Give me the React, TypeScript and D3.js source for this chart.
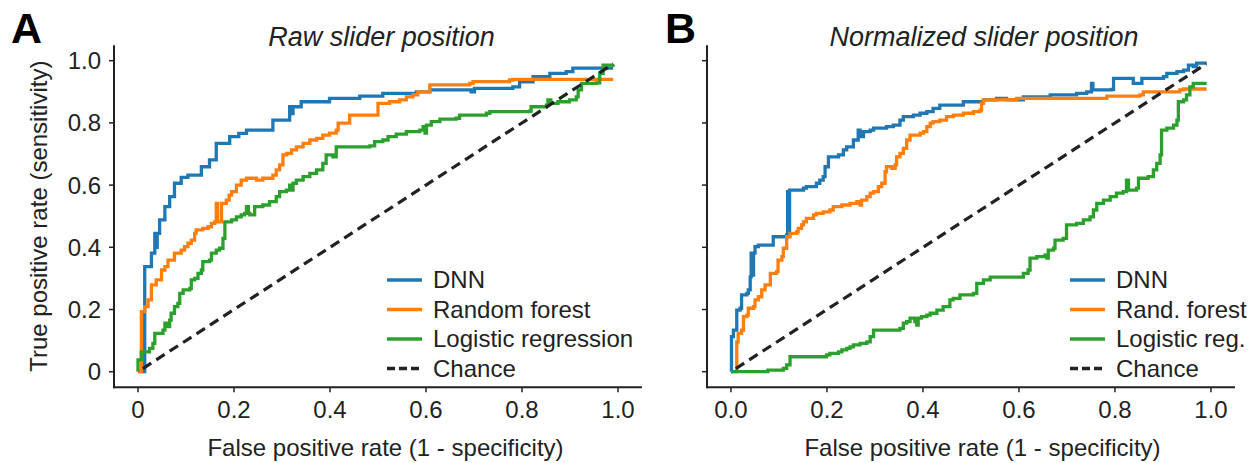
import React from "react";
import * as d3 from "d3";

type P = [number, number];

const xTickValues = [0, 0.2, 0.4, 0.6, 0.8, 1.0];
const yTickValues = [0, 0.2, 0.4, 0.6, 0.8, 1.0];
const xTickLabelsA = ["0", "0.2", "0.4", "0.6", "0.8", "1.0"];
const xTickLabelsB = ["0.0", "0.2", "0.4", "0.6", "0.8", "1.0"];
const yTickLabelsA = ["0", "0.2", "0.4", "0.6", "0.8", "1.0"];

const seriesNamesA = ["DNN", "Random forest", "Logistic regression", "Chance"];
const seriesNamesB = ["DNN", "Rand. forest", "Logistic reg.", "Chance"];
const seriesColors = ["#1f77b4", "#ff7f0e", "#2ca02c", "#222222"];

const titles = ["Raw slider position", "Normalized slider position"];
const panelLetters = ["A", "B"];
const xLabel = "False positive rate (1 - specificity)";
const yLabel = "True positive rate (sensitivity)";

const dnnA: P[] = [[0,0],[0.014,0.338],[0.028,0.381],[0.035,0.445],[0.038,0.40],[0.040,0.445],[0.045,0.488],[0.056,0.531],[0.066,0.563],[0.076,0.606],[0.090,0.625],[0.104,0.632],[0.132,0.659],[0.149,0.681],[0.163,0.734],[0.191,0.756],[0.210,0.766],[0.226,0.777],[0.267,0.777],[0.281,0.809],[0.302,0.809],[0.316,0.852],[0.320,0.830],[0.323,0.852],[0.340,0.868],[0.399,0.879],[0.462,0.886],[0.510,0.895],[0.580,0.900],[0.608,0.906],[0.691,0.906],[0.694,0.900],[0.701,0.911],[0.781,0.916],[0.795,0.932],[0.823,0.949],[0.858,0.959],[0.892,0.965],[0.906,0.976],[0.990,0.976]];
const rfA: P[] = [[0,0],[0.007,0.193],[0.014,0.209],[0.021,0.231],[0.028,0.279],[0.038,0.295],[0.049,0.327],[0.056,0.338],[0.0625,0.359],[0.076,0.381],[0.090,0.391],[0.097,0.402],[0.104,0.413],[0.111,0.423],[0.118,0.445],[0.121,0.456],[0.135,0.461],[0.146,0.466],[0.153,0.477],[0.160,0.482],[0.163,0.541],[0.166,0.482],[0.172,0.482],[0.174,0.541],[0.184,0.552],[0.190,0.568],[0.195,0.579],[0.205,0.600],[0.215,0.616],[0.226,0.622],[0.247,0.616],[0.260,0.622],[0.281,0.632],[0.288,0.649],[0.295,0.665],[0.302,0.697],[0.310,0.702],[0.320,0.713],[0.330,0.723],[0.344,0.734],[0.358,0.745],[0.372,0.750],[0.385,0.761],[0.399,0.767],[0.413,0.777],[0.417,0.799],[0.441,0.825],[0.500,0.863],[0.524,0.868],[0.545,0.874],[0.559,0.884],[0.573,0.890],[0.583,0.900],[0.608,0.922],[0.691,0.927],[0.698,0.933],[0.774,0.938],[0.781,0.940],[0.990,0.940]];
const lrA: P[] = [[0,0],[0,0.038],[0.007,0.054],[0.007,0.064],[0.021,0.064],[0.024,0.075],[0.031,0.091],[0.035,0.123],[0.045,0.123],[0.052,0.134],[0.056,0.156],[0.0625,0.145],[0.066,0.166],[0.069,0.188],[0.076,0.209],[0.083,0.220],[0.087,0.252],[0.094,0.263],[0.108,0.268],[0.111,0.295],[0.118,0.300],[0.125,0.316],[0.132,0.327],[0.135,0.354],[0.149,0.359],[0.153,0.381],[0.163,0.391],[0.170,0.397],[0.177,0.429],[0.181,0.482],[0.195,0.488],[0.205,0.498],[0.215,0.504],[0.222,0.509],[0.226,0.531],[0.230,0.509],[0.233,0.504],[0.243,0.531],[0.260,0.536],[0.274,0.547],[0.288,0.563],[0.295,0.579],[0.309,0.584],[0.316,0.600],[0.320,0.584],[0.323,0.606],[0.330,0.616],[0.344,0.627],[0.358,0.638],[0.372,0.649],[0.385,0.670],[0.392,0.697],[0.406,0.691],[0.413,0.723],[0.483,0.726],[0.493,0.740],[0.510,0.745],[0.521,0.756],[0.538,0.764],[0.559,0.772],[0.587,0.777],[0.594,0.788],[0.598,0.767],[0.601,0.793],[0.611,0.804],[0.629,0.812],[0.663,0.815],[0.670,0.825],[0.726,0.831],[0.733,0.836],[0.816,0.838],[0.819,0.852],[0.851,0.857],[0.854,0.874],[0.860,0.863],[0.875,0.868],[0.899,0.874],[0.913,0.884],[0.917,0.906],[0.924,0.927],[0.955,0.929],[0.962,0.959],[0.969,0.986],[0.990,0.987]];

const dnnB: P[] = [[0,0],[0.001,0.113],[0.005,0.134],[0.012,0.139],[0.012,0.198],[0.019,0.204],[0.022,0.247],[0.033,0.252],[0.036,0.263],[0.040,0.305],[0.042,0.381],[0.044,0.311],[0.047,0.381],[0.050,0.402],[0.057,0.407],[0.085,0.407],[0.088,0.434],[0.116,0.440],[0.118,0.579],[0.120,0.445],[0.122,0.584],[0.126,0.584],[0.151,0.590],[0.157,0.595],[0.178,0.606],[0.185,0.616],[0.192,0.627],[0.196,0.659],[0.203,0.691],[0.224,0.697],[0.234,0.713],[0.241,0.723],[0.255,0.745],[0.265,0.777],[0.269,0.756],[0.276,0.772],[0.290,0.777],[0.297,0.783],[0.324,0.788],[0.338,0.793],[0.352,0.809],[0.359,0.820],[0.380,0.825],[0.394,0.831],[0.408,0.836],[0.421,0.847],[0.435,0.857],[0.484,0.868],[0.526,0.874],[0.553,0.879],[0.574,0.874],[0.595,0.874],[0.609,0.884],[0.665,0.890],[0.720,0.895],[0.741,0.900],[0.751,0.927],[0.754,0.906],[0.793,0.908],[0.797,0.943],[0.835,0.943],[0.838,0.927],[0.852,0.927],[0.856,0.943],[0.901,0.949],[0.908,0.959],[0.929,0.965],[0.943,0.970],[0.953,0.986],[0.963,0.981],[0.970,0.992],[0.991,0.992]];
const rfB: P[] = [[0,0],[0.012,0.096],[0.015,0.123],[0.022,0.134],[0.026,0.177],[0.033,0.182],[0.036,0.204],[0.047,0.209],[0.050,0.231],[0.057,0.241],[0.064,0.263],[0.071,0.279],[0.078,0.279],[0.082,0.316],[0.095,0.322],[0.098,0.359],[0.106,0.370],[0.109,0.397],[0.116,0.434],[0.123,0.445],[0.137,0.450],[0.140,0.461],[0.147,0.472],[0.151,0.482],[0.157,0.493],[0.172,0.504],[0.178,0.509],[0.192,0.514],[0.206,0.520],[0.213,0.531],[0.231,0.536],[0.248,0.541],[0.262,0.547],[0.269,0.536],[0.272,0.552],[0.283,0.563],[0.290,0.574],[0.297,0.579],[0.307,0.595],[0.314,0.606],[0.321,0.643],[0.324,0.659],[0.335,0.654],[0.342,0.665],[0.345,0.691],[0.352,0.702],[0.359,0.718],[0.366,0.745],[0.373,0.761],[0.394,0.767],[0.401,0.772],[0.408,0.788],[0.415,0.799],[0.421,0.804],[0.435,0.809],[0.449,0.820],[0.463,0.825],[0.484,0.831],[0.505,0.836],[0.519,0.841],[0.522,0.863],[0.526,0.874],[0.567,0.875],[0.595,0.879],[0.776,0.879],[0.783,0.886],[0.852,0.890],[0.859,0.900],[0.935,0.906],[0.943,0.909],[0.991,0.909]];
const lrB: P[] = [[0,0],[0.074,0],[0.077,0.005],[0.109,0.011],[0.116,0.022],[0.123,0.048],[0.199,0.054],[0.206,0.059],[0.224,0.064],[0.231,0.070],[0.241,0.075],[0.248,0.080],[0.255,0.086],[0.269,0.091],[0.283,0.096],[0.290,0.113],[0.297,0.134],[0.352,0.139],[0.359,0.156],[0.366,0.161],[0.373,0.172],[0.383,0.161],[0.387,0.150],[0.390,0.172],[0.397,0.177],[0.408,0.182],[0.415,0.188],[0.429,0.198],[0.442,0.209],[0.456,0.231],[0.463,0.236],[0.477,0.247],[0.505,0.252],[0.512,0.284],[0.526,0.295],[0.540,0.304],[0.602,0.304],[0.609,0.316],[0.619,0.327],[0.623,0.365],[0.637,0.370],[0.654,0.375],[0.658,0.365],[0.661,0.391],[0.672,0.397],[0.675,0.423],[0.692,0.429],[0.699,0.472],[0.720,0.477],[0.734,0.488],[0.748,0.498],[0.755,0.520],[0.762,0.541],[0.776,0.552],[0.790,0.563],[0.803,0.574],[0.817,0.579],[0.824,0.616],[0.828,0.584],[0.845,0.590],[0.849,0.622],[0.869,0.627],[0.880,0.649],[0.887,0.670],[0.894,0.697],[0.897,0.777],[0.908,0.783],[0.922,0.793],[0.929,0.809],[0.932,0.868],[0.943,0.874],[0.949,0.890],[0.956,0.916],[0.963,0.927],[0.991,0.927]];
const chance: P[] = [[0.01, 0.01], [0.99, 0.99]];

const FONT = "'Liberation Sans', Arial, Helvetica, sans-serif";
const TEXT = "#222222";

interface PanelProps {
  x0: number;
  curves: P[][];
  names: string[];
  xTickLabels: string[];
  yTickLabels: string[] | null;
  title: string;
  titleX: number;
  letter: string;
  letterX: number;
  labelX: number;
  legendX: number;
  showYLabel: boolean;
}

function Panel(p: PanelProps) {
  const xs = d3.scaleLinear().domain([0, 1]).range([p.x0, p.x0 + 480]);
  const ys = d3.scaleLinear().domain([0, 1]).range([371.7, 60.7]);
  const line = d3
    .line<P>()
    .x((d) => xs(d[0]))
    .y((d) => ys(d[1]))
    .curve(d3.curveStepAfter);
  const straight = d3
    .line<P>()
    .x((d) => xs(d[0]))
    .y((d) => ys(d[1]));
  const xMin = xs(-0.05);
  const xMax = xs(1.05);
  const yBot = ys(-0.05);
  const yTop = ys(1.05);
  return (
    <g>
      <text x={p.letterX} y={43} fontFamily={FONT} fontWeight="bold" fontSize={43} fill="#000">
        {p.letter}
      </text>
      <text x={p.titleX} y={46} fontFamily={FONT} fontStyle="italic" fontSize={27} fill={TEXT} textAnchor="middle">
        {p.title}
      </text>
      <line x1={xMin} x2={xMin} y1={yTop} y2={yBot + 1} stroke={TEXT} strokeWidth={2} />
      <line x1={xMin - 1} x2={xMax} y1={yBot} y2={yBot} stroke={TEXT} strokeWidth={2} />
      {xTickValues.map((v, i) => (
        <g key={"xt" + i}>
          <line x1={xs(v)} x2={xs(v)} y1={yBot} y2={yBot + 5} stroke={TEXT} strokeWidth={1.5} />
          <text x={xs(v)} y={418} fontFamily={FONT} fontSize={24} fill={TEXT} textAnchor="middle">
            {p.xTickLabels[i]}
          </text>
        </g>
      ))}
      {yTickValues.map((v, i) => (
        <g key={"yt" + i}>
          <line x1={xMin - 5} x2={xMin} y1={ys(v)} y2={ys(v)} stroke={TEXT} strokeWidth={1.5} />
          {p.yTickLabels && (
            <text x={xMin - 13} y={ys(v)} dy="0.35em" fontFamily={FONT} fontSize={24} fill={TEXT} textAnchor="end">
              {p.yTickLabels[i]}
            </text>
          )}
        </g>
      ))}
      <text x={p.labelX} y={456} fontFamily={FONT} fontSize={24} fill={TEXT} textAnchor="middle">
        {xLabel}
      </text>
      {p.showYLabel && (
        <text transform={`translate(47,${(yTop + yBot) / 2}) rotate(-90)`} fontFamily={FONT} fontSize={24} fill={TEXT} textAnchor="middle">
          {yLabel}
        </text>
      )}
      {p.curves.map((c, i) => (
        <path key={"c" + i} d={line(c) || ""} fill="none" stroke={seriesColors[i]} strokeWidth={3.3} strokeLinejoin="miter" />
      ))}
      <path d={straight(chance) || ""} fill="none" stroke={seriesColors[3]} strokeWidth={3.2} strokeDasharray="10,6" />
      {p.names.map((n, i) => {
        const y = 280 + i * 29.5;
        return (
          <g key={"lg" + i}>
            <line
              x1={p.legendX}
              x2={p.legendX + 35}
              y1={y}
              y2={y}
              stroke={seriesColors[i]}
              strokeWidth={3.3}
              strokeDasharray={i === 3 ? "8,4" : undefined}
            />
            <text x={p.legendX + 46} y={y} dy="0.35em" fontFamily={FONT} fontSize={24} fill={TEXT}>
              {n}
            </text>
          </g>
        );
      })}
    </g>
  );
}

export default function App() {
  return (
    <svg width={1252} height={463} style={{ position: "absolute", left: 0, top: 0, background: "#fff" }}>
      <rect width={1252} height={463} fill="#fff" />
      <Panel
        x0={138}
        curves={[dnnA, rfA, lrA]}
        names={seriesNamesA}
        xTickLabels={xTickLabelsA}
        yTickLabels={yTickLabelsA}
        title={titles[0]}
        titleX={381.5}
        letter={panelLetters[0]}
        letterX={11}
        labelX={385.5}
        legendX={387}
        showYLabel={true}
      />
      <Panel
        x0={731}
        curves={[dnnB, rfB, lrB]}
        names={seriesNamesB}
        xTickLabels={xTickLabelsB}
        yTickLabels={null}
        title={titles[1]}
        titleX={984}
        letter={panelLetters[1]}
        letterX={665}
        labelX={982.5}
        legendX={1070}
        showYLabel={false}
      />
    </svg>
  );
}
